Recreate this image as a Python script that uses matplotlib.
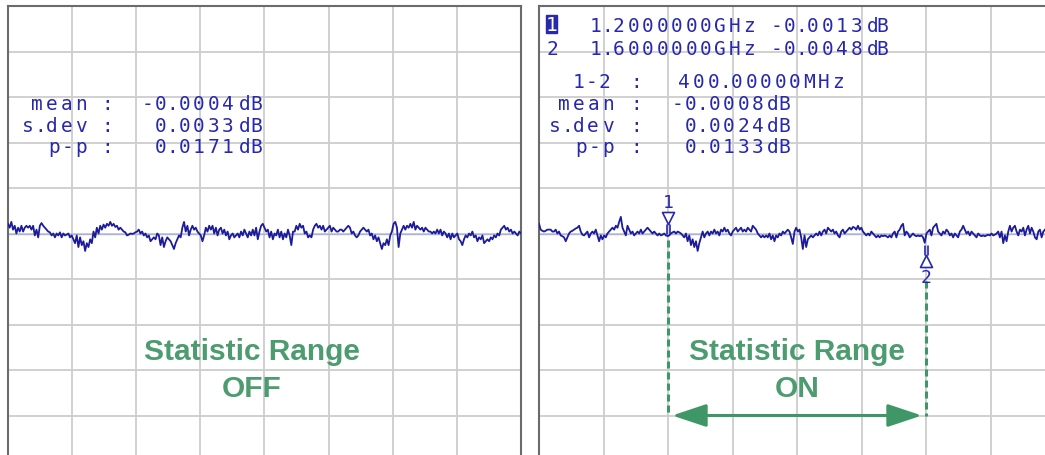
import numpy as np
import matplotlib
matplotlib.use('Agg')
import matplotlib.pyplot as plt
from matplotlib.patches import Rectangle
from matplotlib.path import Path

# canvas in pixels
W, H = 1045, 456

# sweep and scale
START_GHZ, STOP_GHZ = 1.0, 1.8
N_POINTS_RIGHT = 310          # full sweep, only the first part is in the picture
Y_DIV_DB = 0.0235             # dB per vertical division

# traces, in milli-dB (left: statistics off, right: on)
trace_off_mdb = [
    5, 3, 6, 2, 4, 0, 3, 1, 4, 1, 3, 4, 3, 4, 2, 4, -1, 2, -2, 4,
    5.4, 4, 3, 2, 1, 0.6, -1, 0, -2, 0, -1, 0.6, -2, 0, -1, -0.6, 0, -2, -1, -3,
    -5, -1, -7, -2, -6, -4, -9, -5, -7, -3, -5, 1, -2, 3, 0, 4, 2, 4.6, 3, 5,
    4, 6, 4, 5, 3.4, 4, 2, 3, 2, 1, 0.6, -1, -0.6, 0, -0.2, 0, 0.6, 1, 2, 0,
    1, -1, 0, -2, -1, -4, -3, -2, -3, 0, -1, -6, -2, -7, -4, -2, -3, -4, -6, -8,
    -5, -3, -1, -2,
    3, 6, 1, 4, -1, 2, 4, 2, 3, 1, 0, -1, -4, -1, 3, 1, 4, 2, 4, 0,
    3, -1, 2, 3, 0, 2, -1, 1, -3, -1, 0, -2, -1, 0, -2, 1, -1, 2, 0, -2,
    1, -1, 2, -1, 3, -3, 1, 4, 5, 3, 1, 2, -2, 1, -3, 0, -1, 2, -2, 1,
    -3, 0, -2, 2, -1, -6, 1, 1, 4, 2, 5, 3, 4, 0, 1, -2, -1, -2, 2, 4,
    5, 3, 4, 2, 4, 1, 2, 3, 4, 1, 3, 2, 1, 1, 2, 2, 1, 2, 3, 4, 3,
    0, 1, -1, -2, -1, 1, 2, 3, 2, 1, 2, -1, 0, -3, -1, -4, -2, -5, -8, -5,
    -6, -3, -6, -1, 1, 5, 6, 3, -7, 0, 2, 4, 2, 4, 3, 5, 3, 6, 2, 4,
    3, 2, 3, 1, 3, 2, 1, 1, 0, 1, 0, 2, 0, 2, -1, 1, 0, -2, 0, -3,
    0, -2, -1, 0, -3, -4, -6, -3, -1, -2, 0, -1, 1, -2, -1, -4, -2, -3, -1, -5,
    -4, -3, -4, -2, -3, -1, -2, 0, -1, 2, 3, 4, 2, 3, 1, 2, 0, 1, 0, -1,
    1, 0,
]
trace_on_mdb = [
    5, 2, 1.4, 1, 1.4, 2, 2, 2, 1, 1, 2, 0, 1, -1, -1.4, -2, -4, -2, 0, 1,
    1.4, 2, 2.6, 3, 4, 1, -0.6, -1, 0, 1, -2, 0, 1, 0, 2, -1, -4, -1, -3, -1,
    -2, 0, 1, 2, 3, 2, 4, 3, 6, 8.6, 3, 1, -1, 4, 2, 0, 1, -1, 0, 1,
    0, 2, 0, 1, 2, 3, 2, 1, 0, 1, 0, -1, 0, -1, -0.6, 0, -1, -1.3, -1, 0,
    0.6, 1, 0, 1, 0.6, 0, -1, -2, 0, -4, -1, -6, -3, -7, -4, -9, -5, -2, 1, -2,
    0, 1, -1, 1, 0, 2, 0, 1, -1, 2, 1, 3, 1, 2, 0, -1, 1, 2, 3, 1,
    2, 3, 1, 2, 1, 3, 2, 1, 4, 3, 2, 0, -1, -2, -1, -2, -1, -2, 0, -3,
    -1, -4, -1, -2, 0, -1, 1, 0, 1, 2, 1,
    -2, -5.4, 1, 3, 1, 2, -2, -8, -1, -7, -3, -2, -1, -2, -1, 0, -1, 1, -1, 1,
    2, 0, 3, 2, 1, 2, 0, 1, -1, -2, 1, 2, 0, 1, 2, 3, 2, 3.4, 3, 2,
    4, 2, 3, 1, 0, -1, 0, -1, 1, 0, -1, -2, -1, -2, -1, -1.4, -1, -1.4, -2, -1,
    -2, 0, 1, -2, 1, 2, 4, 5, -1, 1, 0, -2, -1, 0, -1, -1.4, -1, -1.4, -1, -2,
    -4.8, 0, 1, 2, -1, 3, 4, 5, 1, 0, -1, 1, 0, 2, 1, -1, 0, -2, 0, -1,
    -2, 1, 2, 4, 2, 0, 1, -1, 1, 0, -1, -2, 0, -1, -1.4, -1, -1.4, -1, -0.6, -1,
    0, -1, -0.6, 0, 1, -2, 1, -5, -1, -4, 1, 4, 1, 3, 4, 1, -1, 2, 1, 3,
    -1, 2, 4, 0, 3, 1, -2, -3, 1, 2, -2, 1, 2,
]

# readouts
MARKER_GHZ = [1.2, 1.6]
MARKER_DB = [-0.0013, -0.0048]
DELTA_MHZ = 400.0
STAT_LABELS = ['mean', 's.dev', 'p-p']
STATS_OFF = [-0.0004, 0.0033, 0.0171]
STATS_ON = [-0.0008, 0.0024, 0.0133]

BLUE = '#2828ae'
TRACE = '#1c1c9a'
GREEN_TXT = '#4c9c70'
GREEN = '#3f9666'
MONO = 'DejaVu Sans Mono'

fig = plt.figure(figsize=(W / 100, H / 100), dpi=100)


def px_axes(x0, y0, x1, y1):
    """Axes placed by pixel box (origin top-left)."""
    return fig.add_axes([x0 / W, 1 - y1 / H, (x1 - x0) / W, (y1 - y0) / H])


ax_l = px_axes(8, 7, 521, 462)
ax_r = px_axes(539, 7, 1055, 462)

for ax in (ax_l, ax_r):
    ax.set_xlim(START_GHZ, STOP_GHZ)
    ax.set_ylim(-5 * Y_DIV_DB, 5 * Y_DIV_DB)
    ax.set_xticks(np.linspace(START_GHZ, STOP_GHZ, 9))
    ax.set_yticks(np.arange(-5, 6) * Y_DIV_DB)
    ax.tick_params(length=0, labelbottom=False, labelleft=False)
    ax.grid(True, color='#cdcdcd', lw=1.3)
    ax.set_axisbelow(True)
    for sp in ax.spines.values():
        sp.set_color('#6b6b6b')
        sp.set_linewidth(1.5)
    ax.axhline(0, color='#aab2e4', lw=1, zorder=1)

# traces
freq_l = np.linspace(START_GHZ, STOP_GHZ, len(trace_off_mdb))
freq_r = np.linspace(START_GHZ, STOP_GHZ, N_POINTS_RIGHT)[:len(trace_on_mdb)]
ax_l.plot(freq_l, np.array(trace_off_mdb) / 1000, color=TRACE, lw=1.3, zorder=3)
ax_r.plot(freq_r, np.array(trace_on_mdb) / 1000, color=TRACE, lw=1.3, zorder=3)


def marker_path(up):
    s = -1 if up else 1
    verts = [(-6, 24 * s), (6, 24 * s), (0, 12 * s), (-6, 24 * s),
             (-1.5, 12 * s), (-1.5, 2 * s), (1.5, 12 * s), (1.5, 2 * s)]
    codes = [Path.MOVETO, Path.LINETO, Path.LINETO, Path.CLOSEPOLY,
             Path.MOVETO, Path.LINETO, Path.MOVETO, Path.LINETO]
    return Path(verts, codes)


for i, (f, v) in enumerate(zip(MARKER_GHZ, MARKER_DB)):
    up = i == 1
    ax_r.plot([f], [v], marker=marker_path(up), ms=2 * 24 * 0.72, mfc='white',
              mec=BLUE, mew=1.2, ls='none', zorder=5)
    ax_r.annotate(str(i + 1), xy=(f, v), xytext=(0, -34 if up else 34),
                  textcoords='offset pixels', ha='center', va='center',
                  family=MONO, fontsize=13, color=BLUE, zorder=5)

# statistic range: dashed limits and double arrow
dash = (0, (2.3, 1.3))
ax_r.plot([MARKER_GHZ[0]] * 2, [-0.15 * Y_DIV_DB, -4 * Y_DIV_DB], ls=dash, lw=2.2, color=GREEN, zorder=2)
ax_r.plot([MARKER_GHZ[1]] * 2, [-1.05 * Y_DIV_DB, -4 * Y_DIV_DB], ls=dash, lw=2.2, color=GREEN, zorder=2)
ax_r.annotate('', xy=(MARKER_GHZ[0], -4 * Y_DIV_DB), xytext=(MARKER_GHZ[1], -4 * Y_DIV_DB),
              arrowprops=dict(arrowstyle='<|-|>,head_length=2.1,head_width=0.7', mutation_scale=10,
                              color=GREEN, lw=2.2, shrinkA=3, shrinkB=3), zorder=4)

# big captions
for cx, state in ((252, 'OFF'), (797, 'ON')):
    fig.text(cx / W, 1 - 360 / H, 'Statistic Range', ha='center', va='baseline',
             family='Liberation Sans', fontweight='bold', fontsize=21.5, color=GREEN_TXT)
    fig.text(cx / W, 1 - 397 / H, state, ha='center', va='baseline',
             family='Liberation Sans', fontweight='bold', fontsize=21.5, color=GREEN_TXT)

# instrument style readouts, set char by char to get the wide pitch
ADV = {'.': 9, '-': 12, ':': 8}


def spaced(x, y, s, ha='left', pitch=14.5, color=BLUE, size=14):
    widths = [ADV.get(c, pitch) for c in s]
    x0 = x - sum(widths) if ha == 'right' else x
    for c, w in zip(s, widths):
        fig.text((x0 + w / 2) / W, 1 - y / H, c, ha='center', va='baseline',
                 family=MONO, fontsize=size, color=color)
        x0 += w
    return x0


rows_y = [110, 132, 153]
for label, v, y in zip(STAT_LABELS, STATS_OFF, rows_y):
    spaced(88, y, label, ha='right')
    spaced(103, y, ':')
    spaced(235, y, f'{v:.4f}', ha='right')
    spaced(240, y, 'dB', pitch=10.5)

for label, v, y in zip(STAT_LABELS, STATS_ON, rows_y):
    spaced(615, y, label, ha='right')
    spaced(632, y, ':')
    spaced(765, y, f'{v:.4f}', ha='right')
    spaced(768, y, 'dB', pitch=10.5)

# marker table
fig.patches.append(Rectangle((546 / W, 1 - 34 / H), 11 / W, 18 / H,
                             transform=fig.transFigure, color=BLUE))
spaced(544.25, 31, '1', color='white')
spaced(545, 55, '2')
for f, v, y in zip(MARKER_GHZ, MARKER_DB, [32, 55]):
    spaced(588, y, f'{f:.7f}GHz')
    spaced(770, y, f'{v:.4f}')
    spaced(867, y, 'dB', pitch=10.5)

spaced(612, 88, '1-2', ha='right')
spaced(632, 88, ':')
spaced(677, 88, f'{DELTA_MHZ:.5f}MHz')

fig.savefig('out.png', dpi=100)
